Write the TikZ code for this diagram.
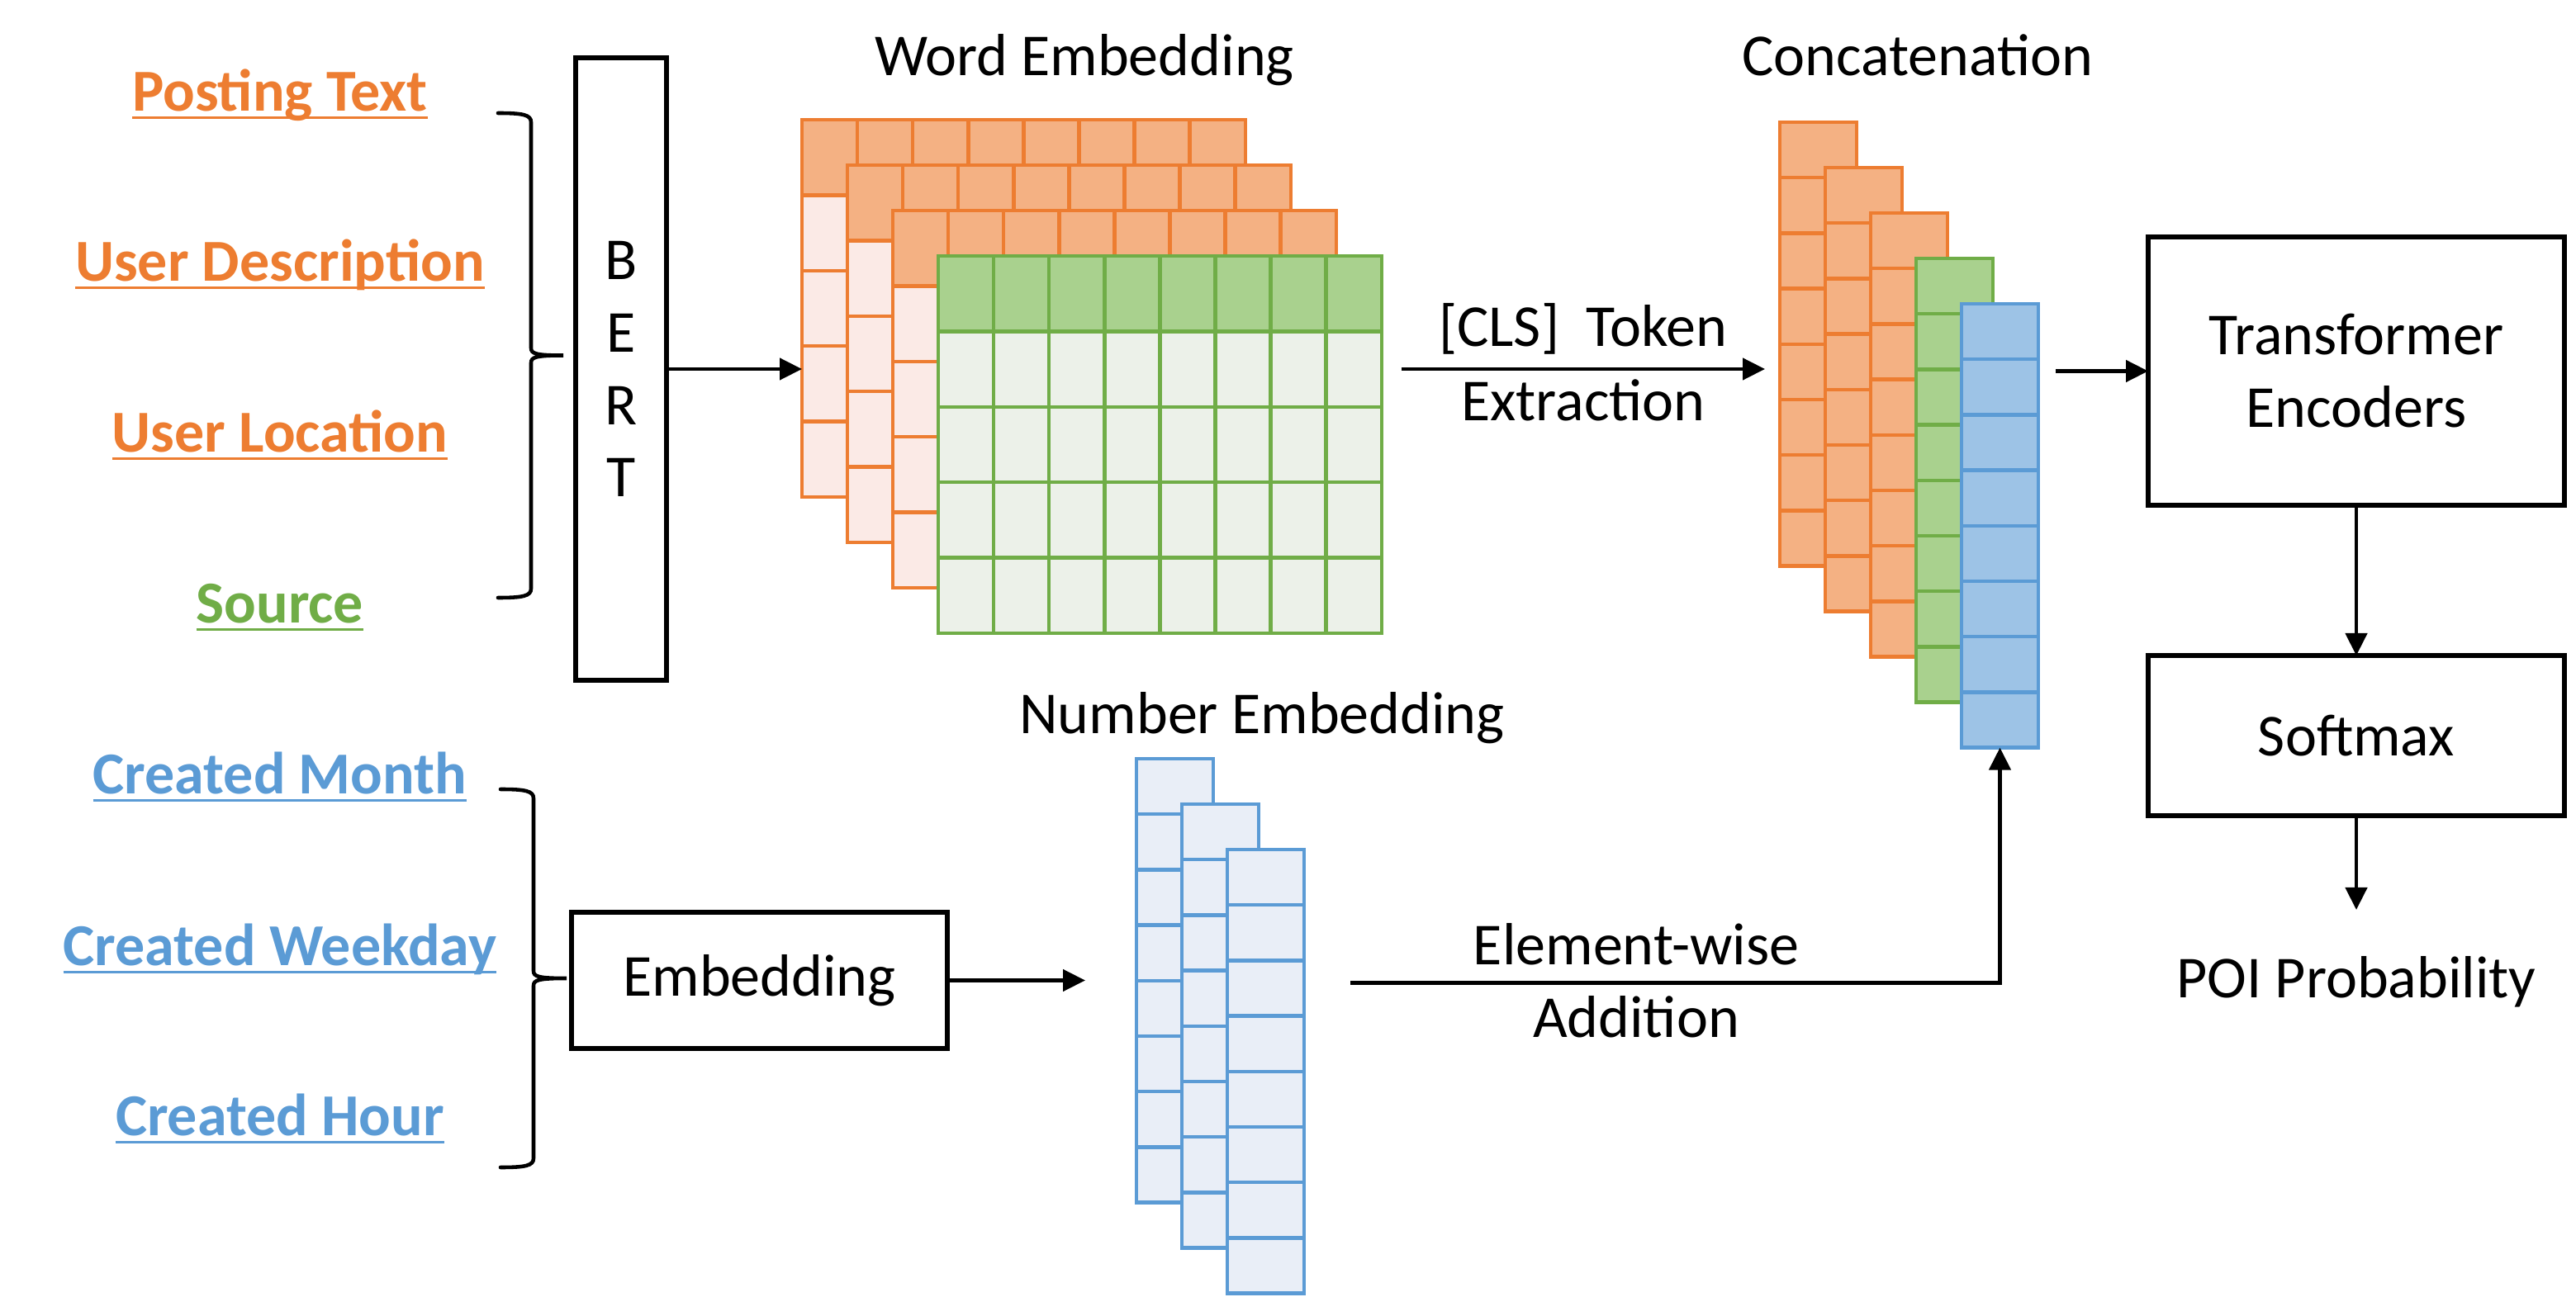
\documentclass[tikz,border=0pt]{standalone}
\usepackage{fontspec}
\setmainfont{Carlito}
\usetikzlibrary{positioning, calc, arrows.meta}

\definecolor{oredge}{HTML}{ED7D31}
\definecolor{orhead}{HTML}{F4B183}
\definecolor{orbody}{HTML}{FBEAE6}
\definecolor{gredge}{HTML}{70AD47}
\definecolor{grhead}{HTML}{A9D18E}
\definecolor{grbody}{HTML}{ECF1E9}
\definecolor{bledge}{HTML}{5B9BD5}
\definecolor{blhead}{HTML}{9DC3E6}
\definecolor{blbody}{HTML}{E9EEF7}

\begin{document}
\begin{tikzpicture}[
    font=\fontsize{20.5}{25}\selectfont,
    every node/.style={inner sep=0pt, outer sep=0pt}]
  \newcommand\cellw{0.671}
  \newcommand\cellh{0.914}
  \newcommand\colh{0.672}
  \newcommand\stackshift{0.55}

  \tikzset{ptr/.style={line width=1.3pt, -{Triangle[length=0.27cm, width=0.26cm]}}}
  \tikzset{blockbox/.style={draw, line width=1.6pt, align=center}}
  \tikzset{bracestyle/.style={line width=1.3pt, line cap=round}}
  \tikzset{gridline/.style={line width=1.3pt}}
  \tikzset{featline/.style={line width=1pt}}
  \tikzset{feat/.style={font=\fontsize{20.5}{25}\selectfont\bfseries, anchor=base}}
  \tikzset{title/.style={anchor=base}}
  \tikzset{wordlayer/.style={anchor=north west, minimum width=5.368cm, minimum height=4.57cm}}
  \tikzset{veccol/.style={anchor=north west, minimum width=0.93cm, minimum height=5.376cm}}

  \useasboundingbox (0,0) rectangle (31.19,-15.71);

  % input features
  \foreach \name/\txt/\col/\y in {post/Posting Text/oredge/1.35, desc/User Description/oredge/3.41,
      loc/User Location/oredge/5.48, src/Source/gredge/7.55, month/Created Month/bledge/9.62,
      wday/Created Weekday/bledge/11.70, hour/Created Hour/bledge/13.76}{
    \node[feat, text=\col] (\name) at (3.39,-\y) {\txt};
    \draw[featline, \col] ([yshift=-0.075cm]\name.base west) -- ([yshift=-0.075cm]\name.base east);
  }

  % braces
  \foreach \bx/\btop/\bbot/\btip in {6.03/1.37/7.24/6.82, 6.06/9.56/14.14/6.86}{
    \pgfmathsetmacro\bmid{-(\btop+\bbot)/2}
    \draw[bracestyle] (\bx,-\btop) .. controls (\bx+0.30,-\btop) and (\bx+0.40,-\btop-0.02) .. (\bx+0.40,-\btop-0.11)
      -- (\bx+0.40,\bmid+0.09) .. controls (\bx+0.40,\bmid+0.02) and (\bx+0.46,\bmid) .. (\btip,\bmid)
      .. controls (\bx+0.46,\bmid) and (\bx+0.40,\bmid-0.02) .. (\bx+0.40,\bmid-0.09)
      -- (\bx+0.40,-\bbot+0.11) .. controls (\bx+0.40,-\bbot+0.02) and (\bx+0.30,-\bbot) .. (\bx,-\bbot);
  }

  % encoders
  \node[blockbox, minimum width=1.10cm, minimum height=7.54cm] (bert) at (7.52,-4.47) {B\\E\\R\\T};
  \node[blockbox, minimum width=4.55cm, minimum height=1.65cm] (emb) at (9.195,-11.875) {Embedding};

  % word embedding
  \node[title] (wetitle) at (13.13,-0.92) {Word Embedding};
  \foreach \k/\edge/\head/\body in {0/oredge/orhead/orbody, 1/oredge/orhead/orbody,
      2/oredge/orhead/orbody, 3/gredge/grhead/grbody}{
    \node[wordlayer, fill=\body] (we-\k) at (9.71+\k*\stackshift, -1.45-\k*\stackshift) {};
    \fill[\head] (we-\k.north west) rectangle ($(we-\k.north east)+(0,-\cellh)$);
    \foreach \i in {1,...,7}
      \draw[gridline, \edge] ($(we-\k.north west)+(\i*\cellw,0)$) -- ($(we-\k.south west)+(\i*\cellw,0)$);
    \foreach \j in {1,...,4}
      \draw[gridline, \edge] ($(we-\k.north west)+(0,-\j*\cellh)$) -- ($(we-\k.north east)+(0,-\j*\cellh)$);
    \draw[gridline, \edge] (we-\k.north west) rectangle (we-\k.south east);
  }

  % concatenation
  \node[title] (cctitle) at (23.22,-0.92) {Concatenation};
  \foreach \k/\edge/\head in {0/oredge/orhead, 1/oredge/orhead, 2/oredge/orhead,
      3/gredge/grhead, 4/bledge/blhead}{
    \node[veccol, draw=\edge, fill=\head, gridline] (cc-\k) at (21.55+\k*\stackshift, -1.48-\k*\stackshift) {};
    \foreach \j in {1,...,7}
      \draw[gridline, \edge] ($(cc-\k.north west)+(0,-\j*\colh)$) -- ($(cc-\k.north east)+(0,-\j*\colh)$);
  }

  % number embedding
  \node[title] (netitle) at (15.28,-8.89) {Number Embedding};
  \foreach \k in {0,1,2}{
    \node[veccol, draw=bledge, fill=blbody, gridline] (ne-\k) at (13.76+\k*\stackshift, -9.19-\k*\stackshift) {};
    \foreach \j in {1,...,7}
      \draw[gridline, bledge] ($(ne-\k.north west)+(0,-\j*\colh)$) -- ($(ne-\k.north east)+(0,-\j*\colh)$);
  }

  % prediction head
  \node[blockbox, minimum width=5.04cm, minimum height=3.25cm] (trans) at (28.53,-4.495) {Transformer\\Encoders};
  \node[blockbox, minimum width=5.04cm, minimum height=1.94cm, below=1.82cm of trans] (soft) {Softmax};
  \node[below=2.21cm of soft, anchor=base] (poi) {POI Probability};

  % connectors
  \coordinate (cls-in) at ($(we-3.east |- bert)+(0.24,0)$);
  \coordinate (cls-out) at ($(cc-0.west |- bert)+(-0.18,0)$);
  \coordinate (cc-out) at ($(cc-4.east |- trans)+(0.21,0)$);
  \coordinate (ne-in) at ($(ne-0.west |- emb)+(-0.62,0)$);
  \coordinate (add-in) at ($(ne-2.east |- emb)+(0.56,-0.03)$);
  \coordinate[below=1.14cm of soft] (poi-in);

  \draw[ptr] (bert) -- (bert -| we-0.west);
  \draw[ptr] (cls-in) -- (cls-out)
    node[midway, anchor=base, yshift=0.27cm] {[CLS]~~Token}
    node[midway, anchor=base, yshift=-0.63cm] {Extraction};
  \draw[ptr] (cc-out) -- (trans);
  \draw[ptr] (trans) -- (soft);
  \draw[ptr] (soft) -- (poi-in);
  \draw[ptr] (emb) -- (ne-in);
  \draw[ptr] (add-in) -| (cc-4.south)
    node[pos=0.22, anchor=base, yshift=0.22cm] {Element-wise}
    node[pos=0.22, anchor=base, yshift=-0.66cm] {Addition};
\end{tikzpicture}
\end{document}
